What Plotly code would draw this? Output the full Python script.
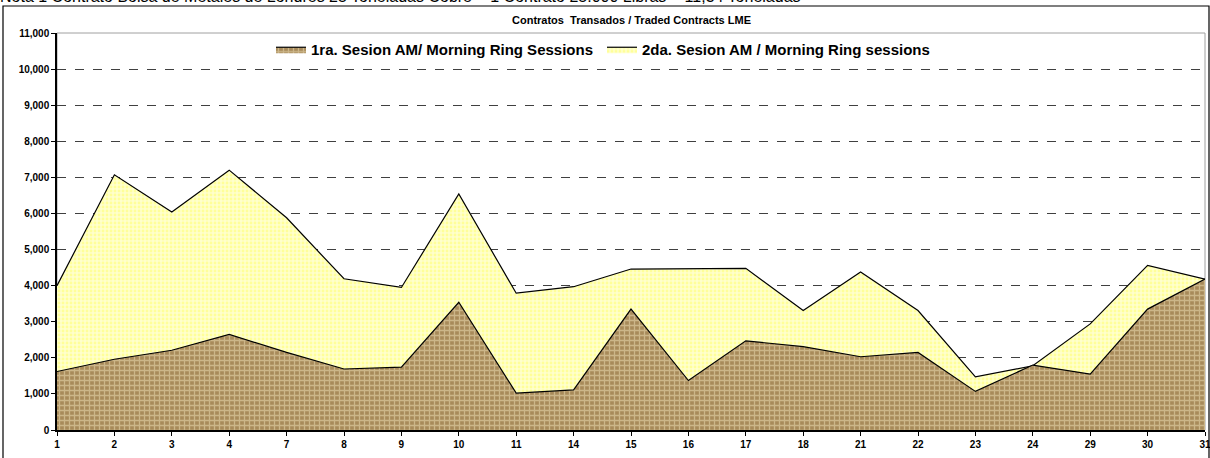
import plotly.graph_objects as go

categories = ["1", "2", "3", "4", "7", "8", "9", "10", "11", "14", "15", "16",
              "17", "18", "21", "22", "23", "24", "29", "30", "31"]
session1 = [1620, 1960, 2210, 2650, 2150, 1690, 1740, 3540, 1020, 1110, 3350, 1370,
            2470, 2310, 2030, 2150, 1070, 1800, 1550, 3350, 4180]
session2 = [4000, 7070, 6040, 7200, 5880, 4190, 3950, 6540, 3790, 3970, 4460, 4460,
            4480, 3310, 4380, 3310, 1470, 1780, 2940, 4560, 4180]
y_ticks = list(range(0, 11001, 1000))

name1 = "1ra. Sesion AM/ Morning Ring Sessions"
name2 = "2da. Sesion AM / Morning Ring sessions"
title = "Contratos  Transados / Traded Contracts LME"
note = "Nota 1 Contrato Bolsa de Metales de Londres 25 Toneladas Cobre = 1 Contrato 25.000 Libras = 11,34 Toneladas"

W, H = 1210, 458
L, R, T, B = 57, 5, 33, 28
pw, ph = W - L - R, H - T - B

def px_x(p):
    return (p - L) / pw

def px_y(p):
    return (H - B - p) / ph

fig = go.Figure()
fig.add_trace(go.Scatter(
    x=categories, y=session2, name=name2, mode="lines",
    line=dict(color="black", width=1.2),
    fill="tozeroy", fillcolor="#ffffb8",
    fillpattern=dict(shape=".", fgcolor="#ffff66", bgcolor="#ffffcc", size=4, solidity=0.4),
))
fig.add_trace(go.Scatter(
    x=categories, y=session1, name=name1, mode="lines",
    line=dict(color="black", width=1.2),
    fill="tozeroy", fillcolor="#b89c68",
    fillpattern=dict(shape="+", fgcolor="#efe2b8", bgcolor="#a88a5a", size=5, solidity=0.45),
))

font_b = "Liberation Sans, Arial, sans-serif"

fig.update_layout(
    width=W, height=H,
    margin=dict(l=L, r=R, t=T, b=B, autoexpand=False),
    paper_bgcolor="white", plot_bgcolor="white",
    showlegend=True,
    legend=dict(orientation="h", x=px_x(271), y=px_y(33), xanchor="left", yanchor="top",
                font=dict(family=font_b, size=15, color="black", weight="bold"),
                traceorder="reversed", bgcolor="rgba(0,0,0,0)", itemwidth=30,
                entrywidth=286, entrywidthmode="pixels", tracegroupgap=0),
    xaxis=dict(type="category", range=[0, len(categories) - 1], automargin=False,
               showgrid=False, showline=True, linecolor="black", linewidth=1.5,
               ticks="outside", ticklen=4, tickcolor="black",
               tickfont=dict(family=font_b, size=10, color="black", weight="bold"),
               zeroline=False),
    yaxis=dict(range=[0, 11000], tickvals=y_ticks, tickformat=",", automargin=False,
               showgrid=True, gridcolor="#404040", griddash="dash", gridwidth=1,
               showline=True, linecolor="black", linewidth=1.5,
               ticks="outside", ticklen=4, tickcolor="black",
               tickfont=dict(family=font_b, size=10, color="black", weight="bold"),
               zeroline=False),
)

# plot-area border (gray) and outer chart frame
fig.add_shape(type="rect", xref="paper", yref="paper", x0=0, x1=1, y0=0, y1=1,
              line=dict(color="#a0a0a0", width=1), layer="below")
fig.add_shape(type="rect", xref="paper", yref="paper",
              x0=px_x(3), x1=px_x(1209), y0=px_y(470), y1=px_y(6),
              line=dict(color="black", width=1.2))

fig.add_annotation(text=title, xref="paper", yref="paper", x=px_x(631), y=px_y(20),
                   xanchor="center", yanchor="middle", showarrow=False,
                   font=dict(family=font_b, size=11, color="black", weight="bold"))
fig.add_annotation(text=note, xref="paper", yref="paper", x=px_x(-2), y=px_y(7),
                   xanchor="left", yanchor="bottom", showarrow=False,
                   font=dict(family=font_b, size=16, color="black"))

fig.write_html("out.html", config={"displayModeBar": False},
               post_script="document.body.style.margin='0';document.body.style.overflow='hidden';")
